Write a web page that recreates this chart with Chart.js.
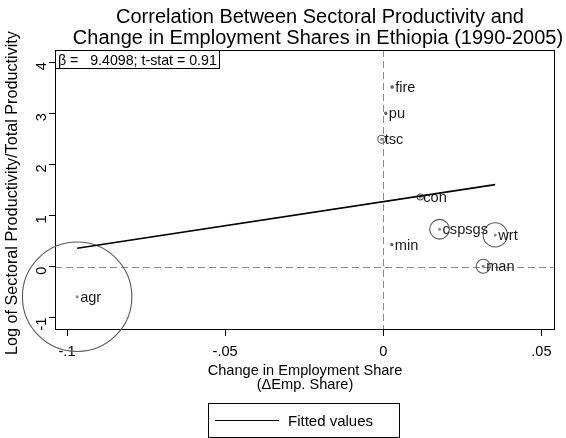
<!DOCTYPE html>
<html>
<head>
<meta charset="utf-8">
<script src="https://cdn.jsdelivr.net/npm/chart.js@4.4.1/dist/chart.umd.min.js"></script>
<style>
  html, body { margin: 0; padding: 0; background: #fff; }
  #wrap { width: 566px; height: 438px; }
</style>
</head>
<body>
<div id="wrap"><canvas id="chart" width="566" height="438"></canvas></div>
<script>
// sector data
const sectors = ["agr", "min", "man", "pu", "con", "wrt", "tsc", "fire", "cspsgs"];
const empShareChange = [-0.0968, 0.0027, 0.0316, 0.0008, 0.0117, 0.0354, -0.0005, 0.0028, 0.0178];
const logRelProd = [-0.59, 0.43, 0.006, 3.0, 1.36, 0.62, 2.49, 3.51, 0.73];
const empWeight = [0.86, 0.0003, 0.014, 0.0003, 0.0026, 0.042, 0.0045, 0.0004, 0.028];

// fitted regression line (endpoints at the data range)
const fitX = [-0.0968, 0.0354];
const fitY = [0.359, 1.603];

const xTickValues = [-0.1, -0.05, 0, 0.05];
const xTickLabels = ["-.1", "-.05", "0", ".05"];
const yTickValues = [-1, 0, 1, 2, 3, 4];
const yTickLabels = ["-1", "0", "1", "2", "3", "4"];

const titleLines = ["Correlation Between Sectoral Productivity and", "Change in Employment Shares in Ethiopia (1990-2005)"];
const xTitleLines = ["Change in Employment Share", "(\u0394Emp. Share)"];
const yTitle = "Log of Sectoral Productivity/Total Productivity";
const statText = "\u03b2 =   9.4098; t-stat = 0.91";
const legendLabel = "Fitted values";

const FONT = "'Liberation Sans', Arial, Helvetica, sans-serif";
const TXT = 14.6;

const points = sectors.map((s, i) => ({ x: empShareChange[i], y: logRelProd[i] }));
const radii = empWeight.map(w => 59 * Math.sqrt(w));

// draws frame, zero lines, labels, titles, legend
const decorPlugin = {
  id: "decor",
  beforeDatasetsDraw(chart) {
    const { ctx, chartArea: a, scales: { x, y } } = chart;
    ctx.save();
    ctx.strokeStyle = "#8c8c8c";
    ctx.lineWidth = 1;
    ctx.setLineDash([7, 4]);
    const x0 = Math.round(x.getPixelForValue(0)) + 0.5;
    const y0 = Math.round(y.getPixelForValue(0)) + 0.5;
    ctx.beginPath();
    ctx.moveTo(x0, a.top); ctx.lineTo(x0, a.bottom);
    ctx.moveTo(a.left, y0); ctx.lineTo(a.right, y0);
    ctx.stroke();
    ctx.setLineDash([]);
    ctx.strokeStyle = "#000";
    ctx.strokeRect(a.left + 0.5, a.top + 0.5, a.right - a.left - 1, a.bottom - a.top - 1);
    ctx.restore();
  },
  afterDraw(chart) {
    const { ctx, chartArea: a, scales: { x, y } } = chart;
    ctx.save();
    // point labels
    ctx.fillStyle = "#1a1a1a";
    ctx.font = TXT + "px " + FONT;
    ctx.textAlign = "left";
    ctx.textBaseline = "middle";
    points.forEach((p, i) => {
      ctx.fillText(sectors[i], x.getPixelForValue(p.x) + 3, y.getPixelForValue(p.y) + 1);
    });

    // beta box
    ctx.font = "14.2px " + FONT;
    ctx.fillStyle = "#fff";
    ctx.fillRect(a.left, a.top, 164, 18);
    ctx.strokeStyle = "#000";
    ctx.lineWidth = 1;
    ctx.strokeRect(a.left + 0.5, a.top + 0.5, 164, 18);
    ctx.fillStyle = "#000";
    ctx.textBaseline = "alphabetic";
    ctx.fillText(statText, a.left + 3, a.top + 15);

    // title
    ctx.textAlign = "center";
    ctx.font = "20px " + FONT;
    ctx.fillText(titleLines[0], 320, 23);
    ctx.fillText(titleLines[1], 318, 44);

    // x title
    ctx.font = TXT + "px " + FONT;
    const cx = (a.left + a.right) / 2;
    ctx.fillText(xTitleLines[0], cx, 375);
    ctx.fillText(xTitleLines[1], cx, 389);

    // y title
    ctx.save();
    ctx.font = "16.2px " + FONT;
    ctx.translate(17, 193);
    ctx.rotate(-Math.PI / 2);
    ctx.fillText(yTitle, 0, 0);
    ctx.restore();

    // legend
    ctx.strokeStyle = "#000";
    ctx.strokeRect(208.5, 403.5, 191, 34);
    ctx.beginPath();
    ctx.lineWidth = 1.2;
    ctx.moveTo(215, 420.5); ctx.lineTo(279, 420.5);
    ctx.stroke();
    ctx.textAlign = "left";
    ctx.font = "15px " + FONT;
    ctx.fillText(legendLabel, 288, 426);
    ctx.restore();
  }
};

new Chart(document.getElementById("chart"), {
  type: "scatter",
  data: {
    datasets: [
      {
        type: "line",
        data: fitX.map((v, i) => ({ x: v, y: fitY[i] })),
        borderColor: "#000",
        borderWidth: 1.6,
        pointRadius: 0,
        fill: false,
        order: 1
      },
      {
        data: points,
        pointRadius: radii,
        pointStyle: "circle",
        backgroundColor: "rgba(0,0,0,0)",
        borderColor: "#5a5a5a",
        borderWidth: 1.1,
        clip: false,
        order: 2
      },
      {
        data: points,
        pointRadius: 1.5,
        backgroundColor: "#8a8a8a",
        borderColor: "#8a8a8a",
        borderWidth: 0,
        order: 3
      }
    ]
  },
  options: {
    responsive: false,
    animation: false,
    events: [],
    layout: { autoPadding: false, padding: { left: 0, top: 50, right: 11, bottom: 48 } },
    plugins: { legend: { display: false }, tooltip: { enabled: false }, title: { display: false } },
    scales: {
      x: {
        type: "linear",
        min: -0.1038,
        max: 0.0543,
        afterFit(s) { s.height = 60; s.paddingLeft = 0; s.paddingRight = 0; },
        afterBuildTicks(s) { s.ticks = xTickValues.map(v => ({ value: v })); },
        border: { display: false },
        grid: { drawOnChartArea: false, drawTicks: true, tickLength: 6, color: "#000" },
        ticks: {
          padding: 7,
          color: "#000",
          font: { family: FONT, size: TXT },
          maxRotation: 0,
          callback: (v, i) => xTickLabels[i]
        }
      },
      y: {
        type: "linear",
        min: -1.24,
        max: 4.235,
        afterFit(s) { s.width = 55; s.paddingTop = 0; s.paddingBottom = 0; },
        afterBuildTicks(s) { s.ticks = yTickValues.map(v => ({ value: v })); },
        border: { display: false },
        grid: { drawOnChartArea: false, drawTicks: true, tickLength: 6, color: "#000" },
        ticks: {
          padding: 7,
          color: "#000",
          font: { family: FONT, size: TXT },
          minRotation: 90,
          maxRotation: 90,
          callback: (v, i) => yTickLabels[i]
        }
      }
    }
  },
  plugins: [decorPlugin]
});
</script>
</body>
</html>
